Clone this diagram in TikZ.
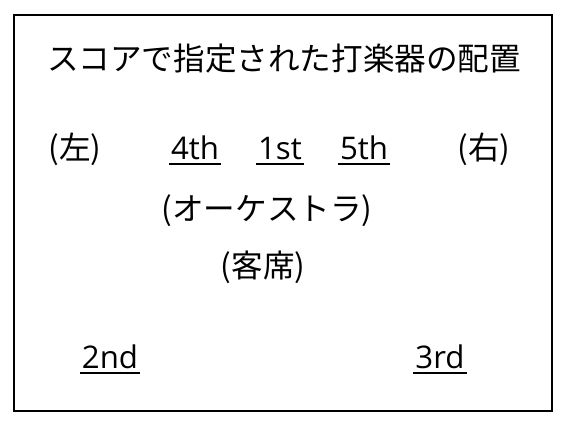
\documentclass[tikz,border=0pt]{standalone}
\usepackage{fontspec}
\newfontfamily\jpfont{Noto Sans CJK JP}
\newfontfamily\latfont{Open Sans}
\usetikzlibrary{positioning}

\tikzset{
  lbl/.style={font=\jpfont\fontsize{15.8}{18}\selectfont, inner sep=0pt, anchor=base},
  part/.style={lbl, font=\latfont\fontsize{15.6}{18}\selectfont, inner xsep=0.8pt},
  uline/.style={line width=1pt},
}

\begin{document}
\begin{tikzpicture}[x=0.5pt,y=-0.5pt]
\useasboundingbox (0,0) rectangle (565,429);
\draw[line width=0.7pt] (14,15) rectangle (552,411);

\node[lbl] (title) at (284,70) {スコアで指定された打楽器の配置};

\node[lbl] (left) at (75,159) {(左)};
\node[part] (p4) at (195,159) {4th};
\node[part] (p1) at (280,159) {1st};
\node[part] (p5) at (364,159) {5th};
\node[lbl] (right) at (484,159) {(右)};

\node[lbl] (orch) at (267,220) {(オーケストラ)};
\node[lbl] (seats) at (263,277) {(客席)};

\node[part] (p2) at (110,368) {2nd};
\node[part] (p3) at (440,368) {3rd};

\draw[uline] ([yshift=-2.7pt]p4.base west) -- ([yshift=-2.7pt]p4.base east);
\draw[uline] ([yshift=-2.7pt]p1.base west) -- ([yshift=-2.7pt]p1.base east);
\draw[uline] ([yshift=-2.7pt]p5.base west) -- ([yshift=-2.7pt]p5.base east);
\draw[uline] ([yshift=-2.5pt]p2.base west) -- ([yshift=-2.5pt]p2.base east);
\draw[uline] ([yshift=-2.5pt]p3.base west) -- ([yshift=-2.5pt]p3.base east);
\end{tikzpicture}
\end{document}
